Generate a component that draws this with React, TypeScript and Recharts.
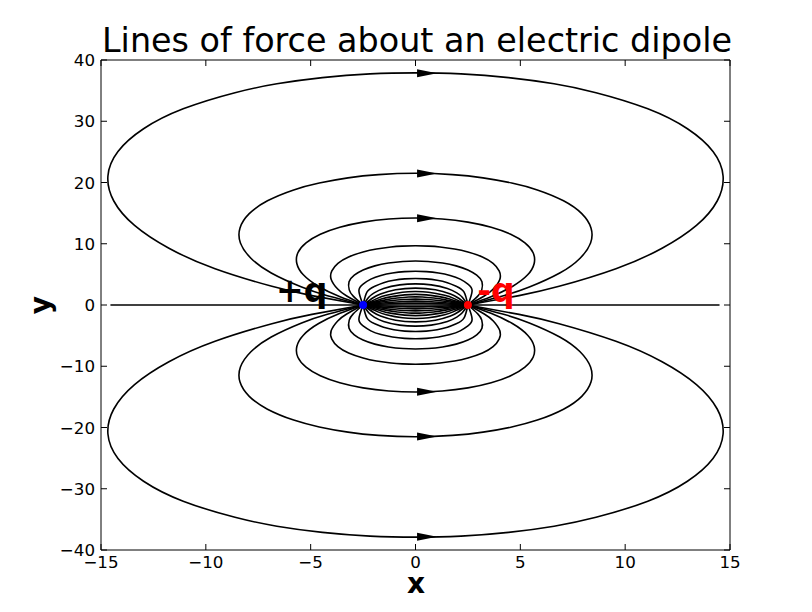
import { ComposedChart, Line, Scatter, XAxis, YAxis, ReferenceLine } from 'recharts';

// Lines of force. Each loop leaves +q at (-2.5, 0)
// and ends on -q at (2.5, 0). Names give the launch angle at +q.
const up150 = [[-2.5, 0], [-4.94, 1.53], [-6.85, 3.05], [-9.56, 5.92], [-11.76, 9.26], [-13.4, 12.99], [-14.39, 16.98], [-14.67, 21.07], [-14.19, 25.06], [-12.97, 28.77], [-11.08, 32.03], [-8.61, 34.66], [-6.61, 36.11], [-4.44, 37.12], [-2.17, 37.73], [0, 37.9], [2.17, 37.73], [4.44, 37.12], [6.61, 36.11], [8.61, 34.66], [11.08, 32.03], [12.97, 28.77], [14.19, 25.06], [14.67, 21.07], [14.39, 16.98], [13.4, 12.99], [11.76, 9.26], [9.56, 5.92], [6.85, 3.05], [4.94, 1.53], [2.5, 0]];
const up140 = [[-2.5, 0], [-4.24, 1.56], [-5.43, 2.93], [-6.88, 5.22], [-7.85, 7.64], [-8.35, 10.13], [-8.37, 12.58], [-7.93, 14.91], [-7.06, 17.01], [-5.81, 18.79], [-4.59, 19.91], [-3.22, 20.76], [-1.76, 21.29], [0, 21.5], [1.76, 21.29], [3.22, 20.76], [4.59, 19.91], [5.81, 18.79], [7.06, 17.01], [7.93, 14.91], [8.37, 12.58], [8.35, 10.13], [7.85, 7.64], [6.88, 5.22], [5.43, 2.93], [4.24, 1.56], [2.5, 0]];
const up130 = [[-2.5, 0], [-3.6, 1.36], [-4.62, 3.03], [-5.35, 4.93], [-5.66, 6.78], [-5.61, 8.53], [-5.22, 10.14], [-4.54, 11.55], [-3.61, 12.69], [-2.5, 13.53], [-1.27, 14.04], [0, 14.2], [1.27, 14.04], [2.5, 13.53], [3.61, 12.69], [4.54, 11.55], [5.22, 10.14], [5.61, 8.53], [5.66, 6.78], [5.35, 4.93], [4.62, 3.03], [3.6, 1.36], [2.5, 0]];
const up120 = [[-2.5, 0], [-3.28, 1.46], [-3.71, 2.6], [-4.02, 4.18], [-3.99, 5.57], [-3.7, 6.8], [-3.19, 7.84], [-2.5, 8.66], [-1.86, 9.15], [-1.17, 9.48], [-0.63, 9.62], [0, 9.68], [0.63, 9.62], [1.17, 9.48], [1.86, 9.15], [2.5, 8.66], [3.19, 7.84], [3.7, 6.8], [3.99, 5.57], [4.02, 4.18], [3.71, 2.6], [3.28, 1.46], [2.5, 0]];
const up110 = [[-2.5, 0], [-2.97, 1.44], [-3.16, 2.47], [-3.17, 3.78], [-2.92, 4.86], [-2.5, 5.72], [-1.94, 6.39], [-1.29, 6.85], [-0.6, 7.11], [0, 7.18], [0.6, 7.11], [1.29, 6.85], [1.94, 6.39], [2.5, 5.72], [2.92, 4.86], [3.17, 3.78], [3.16, 2.47], [2.97, 1.44], [2.5, 0]];
const up100 = [[-2.5, 0], [-2.7, 2.32], [-2.5, 3.41], [-2.13, 4.22], [-1.65, 4.82], [-1.1, 5.22], [-0.52, 5.45], [0, 5.51], [0.52, 5.45], [1.1, 5.22], [1.65, 4.82], [2.13, 4.22], [2.5, 3.41], [2.7, 2.32], [2.5, 0]];
const up90 = [[-2.5, 0], [-2.31, 2.15], [-1.96, 3.04], [-1.52, 3.64], [-1.03, 4.04], [-0.51, 4.26], [0, 4.33], [0.51, 4.26], [1.03, 4.04], [1.52, 3.64], [1.96, 3.04], [2.31, 2.15], [2.5, 0]];
const up80 = [[-2.5, 0], [-2.23, 1.27], [-1.97, 1.97], [-1.52, 2.69], [-0.75, 3.28], [0, 3.45], [0.75, 3.28], [1.52, 2.69], [1.97, 1.97], [2.23, 1.27], [2.5, 0]];
const up70 = [[-2.5, 0], [-2.02, 1.18], [-1.67, 1.78], [-0.95, 2.48], [0, 2.76], [0.95, 2.48], [1.67, 1.78], [2.02, 1.18], [2.5, 0]];
const up60 = [[-2.5, 0], [-1.82, 1.08], [-1.39, 1.58], [-0.62, 2.09], [0, 2.2], [0.62, 2.09], [1.39, 1.58], [1.82, 1.08], [2.5, 0]];
const up50 = [[-2.5, 0], [-1.63, 0.97], [-1.13, 1.37], [-0.52, 1.66], [0, 1.74], [0.52, 1.66], [1.13, 1.37], [1.63, 0.97], [2.5, 0]];
const up40 = [[-2.5, 0], [-1.43, 0.84], [-0.87, 1.14], [-0.33, 1.3], [0, 1.33], [0.33, 1.3], [0.87, 1.14], [1.43, 0.84], [2.5, 0]];
const up30 = [[-2.5, 0], [-1.79, 0.4], [-1.2, 0.69], [-0.57, 0.9], [0, 0.96], [0.57, 0.9], [1.2, 0.69], [1.79, 0.4], [2.5, 0]];
const up20 = [[-2.5, 0], [-1.78, 0.26], [-1.3, 0.41], [-0.62, 0.575], [0, 0.63], [0.62, 0.575], [1.3, 0.41], [1.78, 0.26], [2.5, 0]];
const up10 = [[-2.5, 0], [-1.27, 0.21], [-0.36, 0.3], [0, 0.31], [0.36, 0.3], [1.27, 0.21], [2.5, 0]];

const down150 = [[-2.5, 0], [-4.94, -1.53], [-6.85, -3.05], [-9.56, -5.92], [-11.76, -9.26], [-13.4, -12.99], [-14.39, -16.98], [-14.67, -21.07], [-14.19, -25.06], [-12.97, -28.77], [-11.08, -32.03], [-8.61, -34.66], [-6.61, -36.11], [-4.44, -37.12], [-2.17, -37.73], [0, -37.9], [2.17, -37.73], [4.44, -37.12], [6.61, -36.11], [8.61, -34.66], [11.08, -32.03], [12.97, -28.77], [14.19, -25.06], [14.67, -21.07], [14.39, -16.98], [13.4, -12.99], [11.76, -9.26], [9.56, -5.92], [6.85, -3.05], [4.94, -1.53], [2.5, 0]];
const down140 = [[-2.5, 0], [-4.24, -1.56], [-5.43, -2.93], [-6.88, -5.22], [-7.85, -7.64], [-8.35, -10.13], [-8.37, -12.58], [-7.93, -14.91], [-7.06, -17.01], [-5.81, -18.79], [-4.59, -19.91], [-3.22, -20.76], [-1.76, -21.29], [0, -21.5], [1.76, -21.29], [3.22, -20.76], [4.59, -19.91], [5.81, -18.79], [7.06, -17.01], [7.93, -14.91], [8.37, -12.58], [8.35, -10.13], [7.85, -7.64], [6.88, -5.22], [5.43, -2.93], [4.24, -1.56], [2.5, 0]];
const down130 = [[-2.5, 0], [-3.6, -1.36], [-4.62, -3.03], [-5.35, -4.93], [-5.66, -6.78], [-5.61, -8.53], [-5.22, -10.14], [-4.54, -11.55], [-3.61, -12.69], [-2.5, -13.53], [-1.27, -14.04], [0, -14.2], [1.27, -14.04], [2.5, -13.53], [3.61, -12.69], [4.54, -11.55], [5.22, -10.14], [5.61, -8.53], [5.66, -6.78], [5.35, -4.93], [4.62, -3.03], [3.6, -1.36], [2.5, 0]];
const down120 = [[-2.5, 0], [-3.28, -1.46], [-3.71, -2.6], [-4.02, -4.18], [-3.99, -5.57], [-3.7, -6.8], [-3.19, -7.84], [-2.5, -8.66], [-1.86, -9.15], [-1.17, -9.48], [-0.63, -9.62], [0, -9.68], [0.63, -9.62], [1.17, -9.48], [1.86, -9.15], [2.5, -8.66], [3.19, -7.84], [3.7, -6.8], [3.99, -5.57], [4.02, -4.18], [3.71, -2.6], [3.28, -1.46], [2.5, 0]];
const down110 = [[-2.5, 0], [-2.97, -1.44], [-3.16, -2.47], [-3.17, -3.78], [-2.92, -4.86], [-2.5, -5.72], [-1.94, -6.39], [-1.29, -6.85], [-0.6, -7.11], [0, -7.18], [0.6, -7.11], [1.29, -6.85], [1.94, -6.39], [2.5, -5.72], [2.92, -4.86], [3.17, -3.78], [3.16, -2.47], [2.97, -1.44], [2.5, 0]];
const down100 = [[-2.5, 0], [-2.7, -2.32], [-2.5, -3.41], [-2.13, -4.22], [-1.65, -4.82], [-1.1, -5.22], [-0.52, -5.45], [0, -5.51], [0.52, -5.45], [1.1, -5.22], [1.65, -4.82], [2.13, -4.22], [2.5, -3.41], [2.7, -2.32], [2.5, 0]];
const down90 = [[-2.5, 0], [-2.31, -2.15], [-1.96, -3.04], [-1.52, -3.64], [-1.03, -4.04], [-0.51, -4.26], [0, -4.33], [0.51, -4.26], [1.03, -4.04], [1.52, -3.64], [1.96, -3.04], [2.31, -2.15], [2.5, 0]];
const down80 = [[-2.5, 0], [-2.23, -1.27], [-1.97, -1.97], [-1.52, -2.69], [-0.75, -3.28], [0, -3.45], [0.75, -3.28], [1.52, -2.69], [1.97, -1.97], [2.23, -1.27], [2.5, 0]];
const down70 = [[-2.5, 0], [-2.02, -1.18], [-1.67, -1.78], [-0.95, -2.48], [0, -2.76], [0.95, -2.48], [1.67, -1.78], [2.02, -1.18], [2.5, 0]];
const down60 = [[-2.5, 0], [-1.82, -1.08], [-1.39, -1.58], [-0.62, -2.09], [0, -2.2], [0.62, -2.09], [1.39, -1.58], [1.82, -1.08], [2.5, 0]];
const down50 = [[-2.5, 0], [-1.63, -0.97], [-1.13, -1.37], [-0.52, -1.66], [0, -1.74], [0.52, -1.66], [1.13, -1.37], [1.63, -0.97], [2.5, 0]];
const down40 = [[-2.5, 0], [-1.43, -0.84], [-0.87, -1.14], [-0.33, -1.3], [0, -1.33], [0.33, -1.3], [0.87, -1.14], [1.43, -0.84], [2.5, 0]];
const down30 = [[-2.5, 0], [-1.79, -0.4], [-1.2, -0.69], [-0.57, -0.9], [0, -0.96], [0.57, -0.9], [1.2, -0.69], [1.79, -0.4], [2.5, 0]];
const down20 = [[-2.5, 0], [-1.78, -0.26], [-1.3, -0.41], [-0.62, -0.575], [0, -0.63], [0.62, -0.575], [1.3, -0.41], [1.78, -0.26], [2.5, 0]];
const down10 = [[-2.5, 0], [-1.27, -0.21], [-0.36, -0.3], [0, -0.31], [0.36, -0.3], [1.27, -0.21], [2.5, 0]];

// the line along the dipole axis
const axisLine = [[-14.55, 0], [14.5, 0]];

// arrow heads on the three outer loops, both halves
const arrowX = [0.55, 0.55, 0.55, 0.55, 0.55, 0.55];
const arrowY = [37.85, 21.45, 14.15, -14.15, -21.45, -37.85];

// charges
const chargeX = [-2.5, 2.5];
const chargeY = [0, 0];
const chargeColor = ['#0000ff', '#ff0000'];

// charge labels
const labelText = ['+q', '-q'];
const labelX = [-6.65, 2.95];
const labelY = [0.5, 0.5];
const labelColor = ['#000000', '#ff0000'];

const xTicks = [-15, -10, -5, 0, 5, 10, 15];
const yTicks = [-40, -30, -20, -10, 0, 10, 20, 30, 40];

const loops = [
  up150, up140, up130, up120, up110, up100, up90, up80, up70, up60, up50, up40, up30, up20, up10,
  down150, down140, down130, down120, down110, down100, down90, down80, down70, down60, down50, down40, down30, down20, down10,
];

const W = 812;
const H = 612;
const PLOT = { left: 101, top: 60, right: 730, bottom: 550 };
const X_AXIS_H = 40;
const Y_AXIS_W = 60;
const TICK = 6;

const toPts = (pairs: number[][]) => pairs.map(([x, y]) => ({ x, y }));
const fmt = (v: number) => (v < 0 ? `\u2212${-v}` : `${v}`);
const font = 'DejaVu Sans, sans-serif';
const tickFont = 16.7;

const arrows = arrowX.map((x, i) => ({ x, y: arrowY[i] }));
const charges = chargeX.map((x, i) => ({ x, y: chargeY[i], color: chargeColor[i] }));
const labels = labelX.map((x, i) => ({ x, y: labelY[i], text: labelText[i], color: labelColor[i] }));

// matplotlib-style ticks: pointing inwards, on both sides of the frame
const XTick = (p: any) => (
  <g>
    <line x1={p.x} x2={p.x} y1={PLOT.bottom} y2={PLOT.bottom - TICK} stroke="#000" />
    <line x1={p.x} x2={p.x} y1={PLOT.top} y2={PLOT.top + TICK} stroke="#000" />
    <text x={p.x} y={PLOT.bottom + 18} textAnchor="middle" fontSize={tickFont} fontFamily={font} fill="#000">
      {fmt(p.payload.value)}
    </text>
  </g>
);

const YTick = (p: any) => (
  <g>
    <line x1={PLOT.left} x2={PLOT.left + TICK} y1={p.y} y2={p.y} stroke="#000" />
    <line x1={PLOT.right} x2={PLOT.right - TICK} y1={p.y} y2={p.y} stroke="#000" />
    <text x={PLOT.left - 6} y={p.y + 6} textAnchor="end" fontSize={tickFont} fontFamily={font} fill="#000">
      {fmt(p.payload.value)}
    </text>
  </g>
);

const Arrow = (p: any) => (
  <polygon
    points={`${p.cx - 10},${p.cy - 4} ${p.cx + 10},${p.cy} ${p.cx - 10},${p.cy + 4}`}
    fill="#000"
  />
);

const Charge = (p: any) => <circle cx={p.cx} cy={p.cy} r={4} fill={p.payload.color} />;

const ChargeLabel = (p: any) => (
  <text x={p.cx} y={p.cy} fill={p.payload.color} fontSize={33} fontWeight="bold" fontFamily={font}>
    {p.payload.text}
  </text>
);

export default function App() {
  return (
    <div style={{ position: 'absolute', left: 0, top: 0, width: W, height: H, background: '#fff' }}>
      <ComposedChart
        width={W}
        height={H}
        margin={{
          top: PLOT.top,
          right: W - PLOT.right,
          bottom: H - PLOT.bottom - X_AXIS_H,
          left: PLOT.left - Y_AXIS_W,
        }}
      >
        <XAxis
          type="number"
          dataKey="x"
          domain={[-15, 15]}
          ticks={xTicks}
          interval={0}
          allowDataOverflow
          height={X_AXIS_H}
          tick={<XTick />}
          tickLine={false}
          axisLine={{ stroke: '#000' }}
        />
        <YAxis
          type="number"
          dataKey="y"
          domain={[-40, 40]}
          ticks={yTicks}
          interval={0}
          allowDataOverflow
          width={Y_AXIS_W}
          tick={<YTick />}
          tickLine={false}
          axisLine={{ stroke: '#000' }}
        />
        <ReferenceLine y={40} stroke="#000" />
        <ReferenceLine x={15} stroke="#000" />
        {loops.map((loop, i) => (
          <Line
            key={`loop-${i}`}
            data={toPts(loop)}
            dataKey="y"
            type="natural"
            stroke="#000"
            strokeWidth={1.6}
            dot={false}
            activeDot={false}
            isAnimationActive={false}
          />
        ))}
        <Line
          data={toPts(axisLine)}
          dataKey="y"
          type="linear"
          stroke="#000"
          strokeWidth={1.4}
          dot={false}
          activeDot={false}
          isAnimationActive={false}
        />
        <Scatter data={arrows} dataKey="y" shape={Arrow} isAnimationActive={false} />
        <Scatter data={charges} dataKey="y" shape={Charge} isAnimationActive={false} />
        <Scatter data={labels} dataKey="y" shape={ChargeLabel} isAnimationActive={false} />
      </ComposedChart>
      <svg width={W} height={H} style={{ position: 'absolute', left: 0, top: 0, pointerEvents: 'none' }}>
        <text x={417} y={52} textAnchor="middle" fontSize={33.4} fontFamily={font} fill="#000">
          Lines of force about an electric dipole
        </text>
        <text x={416} y={593} textAnchor="middle" fontSize={28} fontWeight="bold" fontFamily={font} fill="#000">
          x
        </text>
        <text
          x={0}
          y={0}
          transform="translate(50 305) rotate(-90)"
          textAnchor="middle"
          fontSize={28}
          fontWeight="bold"
          fontFamily={font}
          fill="#000"
        >
          y
        </text>
      </svg>
    </div>
  );
}
